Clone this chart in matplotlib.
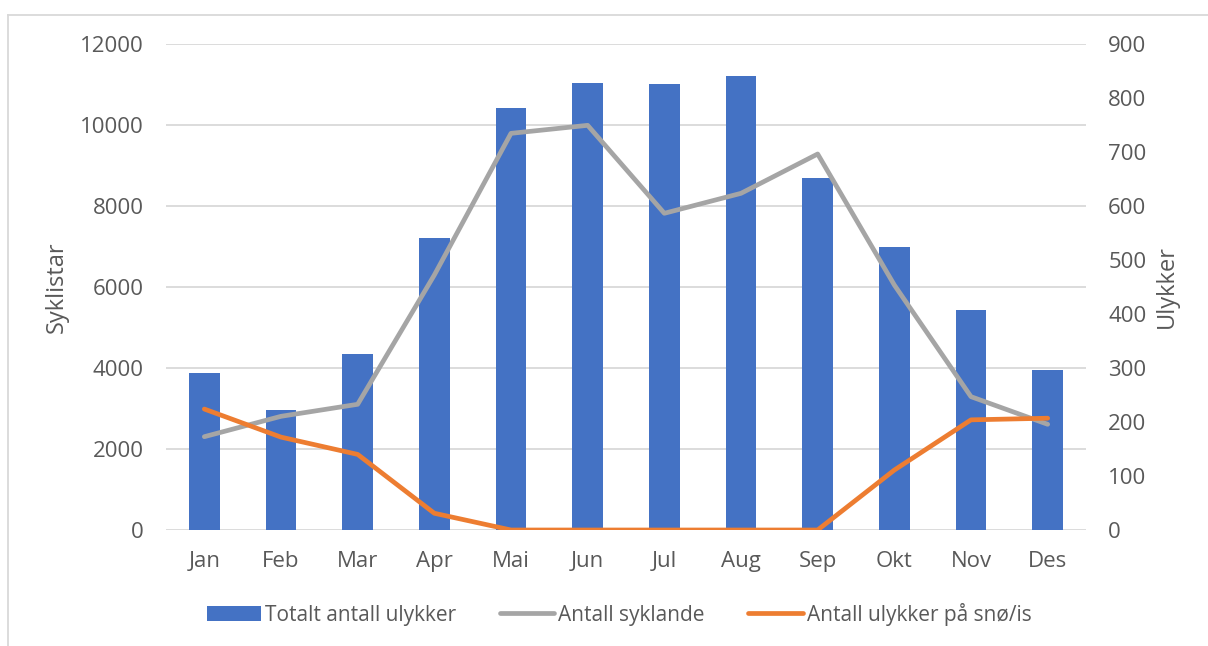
import matplotlib.pyplot as plt
import numpy as np

plt.rcParams['font.family'] = ['Open Sans', 'DejaVu Sans']

months = ["Jan", "Feb", "Mar", "Apr", "Mai", "Jun", "Jul", "Aug", "Sep", "Okt", "Nov", "Des"]
totalt_ulykker = [291, 223, 326, 541, 782, 828, 826, 841, 652, 524, 407, 296]
syklande = [2304, 2807, 3104, 6296, 9794, 9992, 7820, 8313, 9284, 6049, 3292, 2610]
ulykker_sno_is = [224, 172, 140, 31, 0, 0, 0, 0, 0, 111, 204, 207]

text_col = "#595959"
grid_col = "#D9D9D9"

fig = plt.figure(figsize=(12.08, 6.46), dpi=100)
pos = [166 / 1208, 1 - 530 / 646, 920 / 1208, 486 / 646]

# left scale: grid and ticks
ax = fig.add_axes(pos)
ax.set_zorder(1)
# right scale: bars
axr = ax.twinx()
axr.set_zorder(2)
# left scale again: grey line drawn above bars
axg = ax.twinx()
axg.set_zorder(3)
# right scale again: orange line on top
axo = ax.twinx()
axo.set_zorder(4)

x = np.arange(len(months))

bars = axr.bar(x, totalt_ulykker, width=0.4, color="#4472C4", label="Totalt antall ulykker")
lg, = axg.plot(x, syklande, color="#A5A5A5", lw=3.4, solid_capstyle="round",
               label="Antall syklande")
lo, = axo.plot(x, ulykker_sno_is, color="#ED7D31", lw=3.4, solid_capstyle="round",
               label="Antall ulykker på snø/is")

ax.set_xlim(-0.5, len(months) - 0.5)
ax.set_ylim(0, 12000)
axg.set_ylim(0, 12000)
axr.set_ylim(0, 900)
axo.set_ylim(0, 900)

ax.set_yticks(np.arange(0, 12001, 2000))
axr.set_yticks(np.arange(0, 901, 100))
ax.set_xticks(x)
ax.set_xticklabels(months)

ax.grid(axis="y", color=grid_col, lw=1.3)
ax.set_axisbelow(True)

for a in (ax, axr):
    for s in a.spines.values():
        s.set_visible(False)
    a.tick_params(length=0, labelsize=16, colors=text_col)
ax.tick_params(axis="y", pad=16)
ax.tick_params(axis="x", pad=15)
axr.tick_params(axis="y", pad=16)
axg.axis("off")
axo.axis("off")

ax.set_ylabel("Syklistar", fontsize=17, color=text_col, labelpad=8)
axr.set_ylabel("Ulykker", fontsize=17, color=text_col, labelpad=6)

fig.legend(handles=[bars, lg, lo], loc="center", bbox_to_anchor=(619 / 1208, 32 / 646),
           ncol=3, frameon=False, fontsize=15, labelcolor=text_col,
           handlelength=2.6, handletextpad=0.2, columnspacing=2.1)

# chart border
fig.add_artist(plt.Line2D([8 / 1208, 8 / 1208], [0, 1 - 15 / 646], color=grid_col, lw=1.3))
fig.add_artist(plt.Line2D([8 / 1208, 1], [1 - 15 / 646, 1 - 15 / 646], color=grid_col, lw=1.3))

fig.savefig("out.png", dpi=100)
